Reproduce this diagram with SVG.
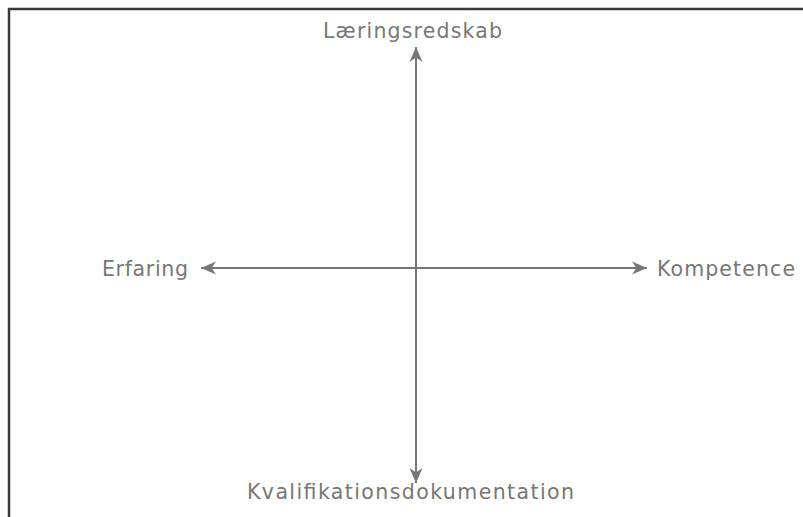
<svg xmlns="http://www.w3.org/2000/svg" width="803" height="517" viewBox="0 0 803 517">
<style>
.lbl{font-family:"DejaVu Sans","Verdana",sans-serif;font-size:20.5px;fill:#777}
.ax{stroke:#777;stroke-width:2;fill:none}
</style>
<defs>
<marker id="ah" markerUnits="userSpaceOnUse" markerWidth="17" markerHeight="14" refX="15" refY="7" orient="auto" viewBox="0 0 17 14">
<path d="M15,7 L0,0.5 L4.5,7 L0,13.5 z" fill="#777"/>
</marker>
</defs>
<rect x="9" y="9" width="820" height="540" fill="#fff" stroke="#3a3a3a" stroke-width="2.5"/>
<g id="connectors">
<line class="ax" x1="416" y1="268" x2="416" y2="47" marker-end="url(#ah)"/>
<line class="ax" x1="416" y1="268" x2="416" y2="483" marker-end="url(#ah)"/>
<line class="ax" x1="416" y1="268" x2="201" y2="268" marker-end="url(#ah)"/>
<line class="ax" x1="416" y1="268" x2="647" y2="268" marker-end="url(#ah)"/>
</g>
<g id="n-top"><text class="lbl" x="323" y="38" textLength="179" lengthAdjust="spacing">Læringsredskab</text></g>
<g id="n-left"><text class="lbl" x="102" y="276" textLength="86" lengthAdjust="spacing">Erfaring</text></g>
<g id="n-right"><text class="lbl" x="657" y="276" textLength="138" lengthAdjust="spacing">Kompetence</text></g>
<g id="n-bottom"><text class="lbl" x="247" y="499" textLength="327" lengthAdjust="spacing">Kvalifikationsdokumentation</text></g>
</svg>
